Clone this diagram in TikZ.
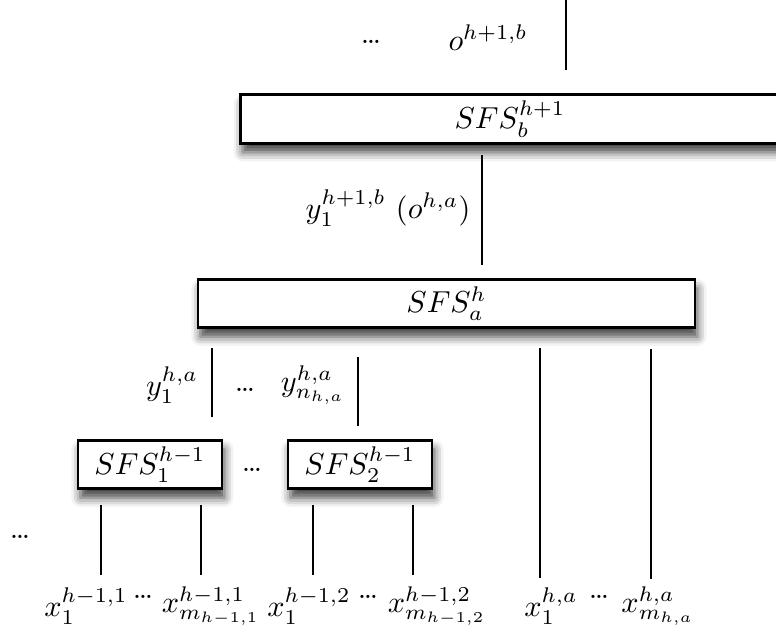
\documentclass[tikz,border=0pt]{standalone}
\usepackage{amsmath, amssymb}
\usepackage{tikz}
\usetikzlibrary{calc, positioning, shapes, shadows.blur}

\tikzset{
  sfsbox/.style={draw, line width=0.85pt, fill=white, inner sep=0pt, minimum height=16pt,
    blur shadow={shadow xshift=0.8pt, shadow yshift=-3pt, shadow blur radius=3pt, shadow opacity=75}},
  wire/.style={line width=0.8pt},
  lbl/.style={inner sep=0pt}
}

\begin{document}
\begin{tikzpicture}[x=0.33pt, y=-0.33pt]
\clip (0,0) rectangle (776,635);
\node[sfsbox, minimum width=178pt] (sfsb) at (510,119) {$SFS^{h+1}_b$};
\node[sfsbox, minimum width=164pt] (sfsa) at (446.5,303.5) {$SFS^{h}_a$};
\node[sfsbox, minimum width=47.5pt] (sfs1) at (150,464.5) {$SFS^{h-1}_1$};
\node[sfsbox, minimum width=47.5pt] (sfs2) at (360,464.5) {$SFS^{h-1}_2$};
\draw \foreach \n/\x/\ya/\yb in {top/566/0/70, ba/482/155/265, ay1/212/348/417, ayn/358/357/426,
  ax1/540/348/578, axm/651/349/579, p1/101/505/575, q1/201/505/575, p2/313/505/575, q2/413/505/575}
  {(\x,\ya) coordinate (\n s) (\x,\yb) coordinate (\n e)};
\draw[wire] \foreach \n in {top, ba, ay1, ayn, ax1, axm, p1, q1, p2, q2} {(\n s) -- (\n e)};
\node[lbl] (dotb) at (371,42) {\dots};
\node[lbl] (ob) at (488,38) {$o^{h+1,b}$};
\node[lbl] (yb) at (388,208) {$y^{h+1,b}_1\ (o^{h,a})$};
\node[lbl] (ya1) at (172,385) {$y^{h,a}_1$};
\node[lbl] (dota) at (245,390) {\dots};
\node[lbl] (yan) at (313,385) {$y^{h,a}_{n_{h,a}}$};
\node[lbl] (dots) at (252,470) {\dots};
\node[lbl] (dotl) at (20,537) {\dots};
\node[lbl] (x11) at (86,606) {$x^{h-1,1}_1$};
\node[lbl] (dotx1) at (143,597) {\dots};
\node[lbl] (x1m) at (211,606) {$x^{h-1,1}_{m_{h-1,1}}$};
\node[lbl] (x21) at (309,606) {$x^{h-1,2}_1$};
\node[lbl] (dotx2) at (368,597) {\dots};
\node[lbl] (x2m) at (437,606) {$x^{h-1,2}_{m_{h-1,2}}$};
\node[lbl] (xa1) at (551,606) {$x^{h,a}_1$};
\node[lbl] (dotxa) at (599,597) {\dots};
\node[lbl] (xam) at (658,606) {$x^{h,a}_{m_{h,a}}$};
\end{tikzpicture}
\end{document}
